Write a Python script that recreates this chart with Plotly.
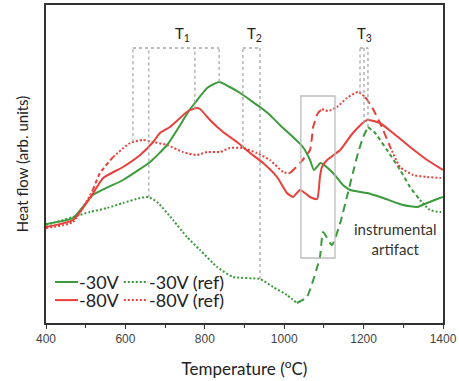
import numpy as np
import plotly.graph_objects as go

# ---------------- data ----------------
t_g30 = [400, 468, 518, 594, 662, 705, 738, 758, 775, 806, 836, 863, 889, 914, 939, 964, 989,
         1022, 1047, 1065, 1075, 1092, 1123, 1148, 1166, 1209, 1249, 1299, 1335, 1360, 1392, 1400]
v_g30 = [99, 105, 128, 143, 161, 178, 198, 211, 220, 235, 241, 236, 230, 223, 216, 208, 198,
         186, 176, 163, 153, 160, 150, 138, 133, 130, 125, 118, 116, 120, 125, 126]

t_r80 = [400, 468, 511, 544, 594, 637, 670, 687, 712, 758, 780, 788, 813, 846, 881, 914, 947,
         982, 1007, 1022, 1040, 1065, 1083, 1090, 1095, 1108, 1141, 1173, 1209, 1241, 1274, 1317,
         1360, 1392, 1400]
v_r80 = [96, 103, 125, 145, 156, 168, 181, 190, 196, 212, 215, 214, 203, 191, 181, 170, 160,
         146, 130, 126, 133, 126, 124, 146, 156, 163, 173, 190, 203, 200, 190, 176,
         163, 155, 153]

t_g30ref = [400, 468, 511, 554, 594, 637, 657, 680, 720, 755, 788, 831, 871, 939, 972, 1007,
            1032, 1057, 1090, 1098, 1120, 1141, 1161, 1173, 1186, 1199, 1211, 1229, 1259, 1292,
            1317, 1342, 1367, 1392, 1400]
v_g30ref = [98, 106, 111, 115, 120, 125, 126, 121, 103, 86, 73, 56, 46, 44, 36, 28,
            20, 26, 66, 91, 78, 100, 131, 150, 170, 186, 196, 190, 173, 153,
            136, 123, 113, 111, 111]

t_r80ref = [400, 468, 518, 536, 569, 612, 644, 670, 705, 745, 780, 806, 838, 863, 896, 931,
            964, 997, 1015, 1040, 1065, 1073, 1085, 1095, 1110, 1133, 1158, 1186, 1204, 1221,
            1246, 1267, 1292, 1325, 1360, 1392, 1400]
v_r80ref = [95, 101, 133, 150, 166, 180, 183, 181, 178, 171, 168, 171, 171, 175, 175, 170,
            163, 151, 150, 160, 173, 196, 210, 214, 212, 216, 225, 231, 226, 216,
            196, 176, 156, 148, 146, 145, 145]

x_ticks = [400, 600, 800, 1000, 1200, 1400]

# transition-temperature markers
T_groups = [
    ("T<sub>1</sub>", 745, [(619, "r80ref"), (659, "g30ref"), (775, "r80"), (836, "g30")]),
    ("T<sub>2</sub>", 924, [(896, "r80ref"), (939, "g30ref")]),
    ("T<sub>3</sub>", 1201, [(1191, "r80ref"), (1201, "r80"), (1211, "g30ref")]),
]
marker_top = 275
label_y = 289

artifact_box = (1042, 1128, 65, 227)
artifact_text = "instrumental<br>artifact"
artifact_pos = (1280, 84)

# ---------------- styling ----------------
GREEN = "#3b9b3b"
RED = "#e8403a"
LONG = "8px,5px"
SHORT = "4px,3px"
DOT = "2px,2px"

series = {
    "g30": (t_g30, v_g30),
    "r80": (t_r80, v_r80),
    "g30ref": (t_g30ref, v_g30ref),
    "r80ref": (t_r80ref, v_r80ref),
}

fig = go.Figure()

def add_segments(t, v, color, segs, name):
    t = np.array(t, float)
    v = np.array(v, float)
    for a, b, dash in segs:
        m = (t >= a) & (t <= b)
        fig.add_trace(go.Scatter(
            x=t[m], y=v[m], mode="lines", name=name, legendgroup=name,
            line=dict(color=color, width=2, dash=dash, shape="spline", smoothing=0.5),
            showlegend=False,
        ))

add_segments(t_g30, v_g30, GREEN, [(400, 1400, "solid")], "-30V")
add_segments(t_r80, v_r80, RED, [(400, 1400, "solid")], "-80V")
add_segments(t_g30ref, v_g30ref, GREEN,
             [(400, 1032, DOT), (1032, 1211, LONG), (1211, 1342, SHORT), (1342, 1400, DOT)],
             "-30V (ref)")
add_segments(t_r80ref, v_r80ref, RED,
             [(400, 518, DOT), (518, 569, SHORT), (569, 1015, DOT), (1015, 1095, LONG),
              (1095, 1204, DOT), (1204, 1267, LONG), (1267, 1400, DOT)],
             "-80V (ref)")

shapes = []
annotations = []
for label, lx, lines in T_groups:
    xs = []
    for tx, key in lines:
        st, sv = series[key]
        y0 = float(np.interp(tx, st, sv))
        shapes.append(dict(type="line", x0=tx, x1=tx, y0=y0, y1=marker_top,
                           line=dict(color="#a8a8a8", width=1.3, dash="dot")))
        xs.append(tx)
    shapes.append(dict(type="line", x0=min(xs), x1=max(xs), y0=marker_top, y1=marker_top,
                       line=dict(color="#a8a8a8", width=1.3, dash="dot")))
    annotations.append(dict(x=lx, y=label_y, text=label, showarrow=False,
                            font=dict(family="Lato", size=15, color="#222")))

x0, x1, y0, y1 = artifact_box
shapes.append(dict(type="rect", x0=x0, x1=x1, y0=y0, y1=y1,
                   line=dict(color="#bdbdbd", width=1.3)))
annotations.append(dict(x=artifact_pos[0], y=artifact_pos[1], text=artifact_text,
                        showarrow=False, align="center",
                        font=dict(family="Lato", size=15, color="#333")))

# manual legend (two columns x two rows), positions in paper fraction
legend_items = [
    ("-30V", GREEN, "solid", 0.0227, 0.0806, 0.129),
    ("-80V", RED, "solid", 0.0227, 0.0806, 0.072),
    ("-30V (ref)", GREEN, DOT, 0.196, 0.257, 0.129),
    ("-80V (ref)", RED, DOT, 0.196, 0.257, 0.072),
]
for name, color, dash, lx0, lx1, ly in legend_items:
    shapes.append(dict(type="line", xref="paper", yref="paper", x0=lx0, x1=lx1, y0=ly, y1=ly,
                       line=dict(color=color, width=2, dash=dash)))
    annotations.append(dict(xref="paper", yref="paper", x=lx1, y=ly, text=name,
                            xanchor="left", yanchor="middle", showarrow=False, borderpad=0,
                            font=dict(family="Lato", size=18, color="#222")))

fig.update_layout(
    width=459, height=381,
    margin=dict(l=46, r=16, t=5, b=58, autoexpand=False),
    paper_bgcolor="white", plot_bgcolor="white",
    shapes=shapes, annotations=annotations, showlegend=False,
    font=dict(family="Liberation Sans", color="#333"),
)

fig.update_xaxes(
    range=[400, 1400], tickvals=x_ticks, ticktext=[str(v) for v in x_ticks],
    showgrid=False, zeroline=False, showline=True, mirror=True, automargin=False,
    linecolor="#333", linewidth=1.5, ticks="outside", ticklen=4, tickcolor="#333",
    minor=dict(ticks="outside", ticklen=3, dtick=100, tickcolor="#333"),
    tickfont=dict(family="Liberation Sans", size=12, color="#444"),
    title=dict(text="Temperature (<sup>o</sup>C)", standoff=18,
               font=dict(family="Lato", size=17, color="#222")),
)
fig.update_yaxes(
    range=[0, 318], showticklabels=False, ticks="", showgrid=False, zeroline=False,
    showline=True, mirror=True, linecolor="#333", linewidth=1.5, automargin=False,
    title=dict(text="Heat flow (arb. units)", standoff=12,
               font=dict(family="Lato", size=15, color="#222")),
)

fig.write_html("out.html", config={"displayModeBar": False},
               post_script="document.body.style.margin='0';")
